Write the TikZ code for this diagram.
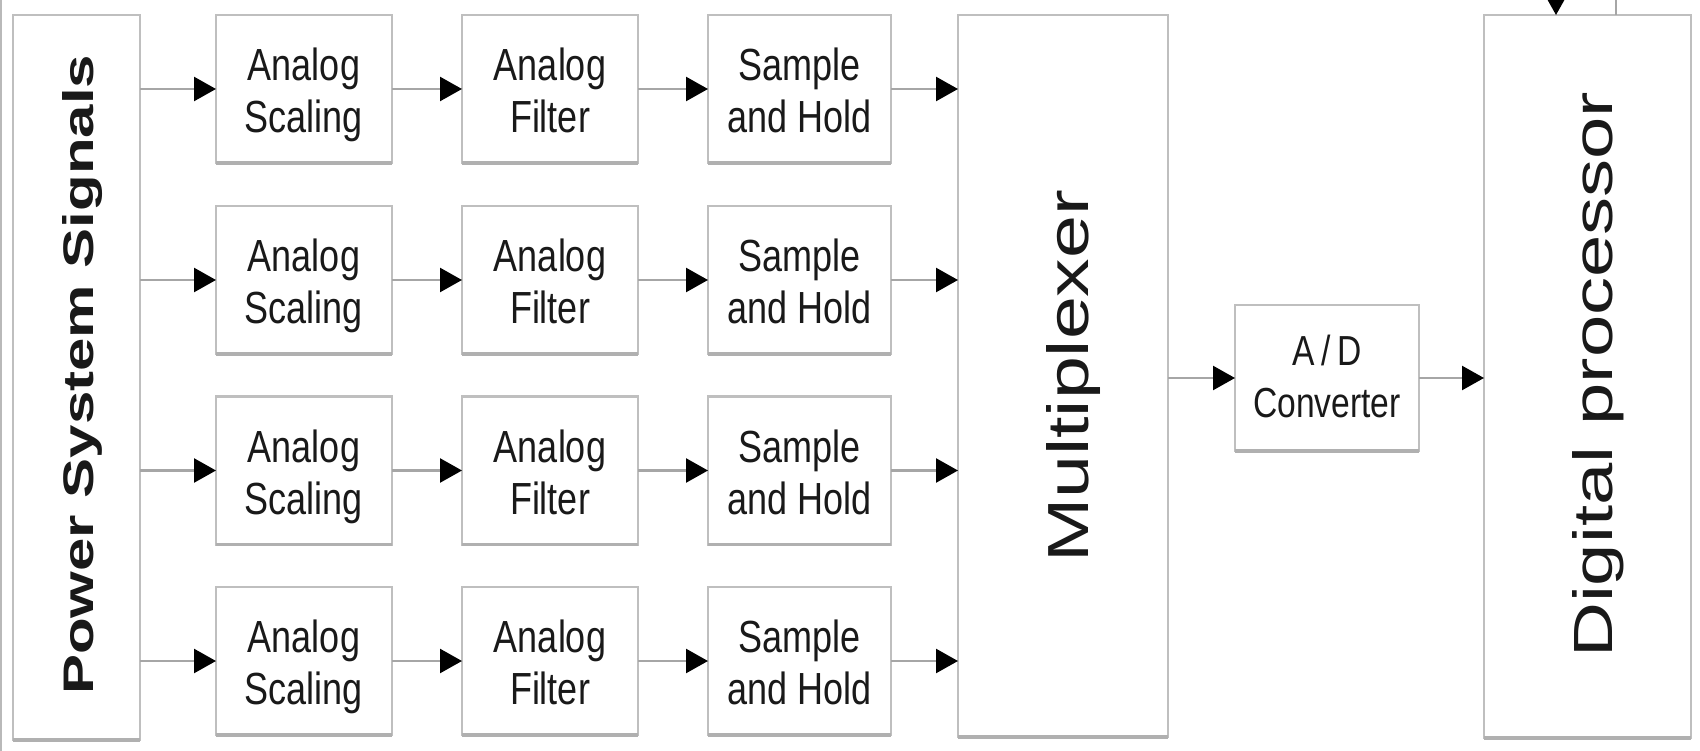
\documentclass[tikz,border=0pt]{standalone}
\usepackage{graphicx}
\usepackage{fontspec}
\setmainfont{Liberation Sans}
\newfontfamily\narrowfont[FakeStretch=0.8]{Liberation Sans}
\usetikzlibrary{arrows.meta}

\tikzset{
  blockbox/.style={draw=gray!50, line width=2.5pt, fill=white, inner sep=0pt,
    outer sep=0pt, text=black!90, align=center,
    font=\narrowfont\fontsize{45}{52}\selectfont},
  boxshade/.style={draw=gray!62, line width=3.5pt},
  flow/.style={draw=gray!70, line width=2.5pt,
    -{Triangle[length=22pt,width=24pt,color=black]}},
  wire/.style={draw=gray!70, line width=2.5pt},
  vlabel/.style={rotate=90, anchor=base west, inner sep=0pt, text=black!90},
  boxtext/.style={text=black!90, align=center, inner sep=0pt,
    font=\narrowfont\fontsize{45}{52}\selectfont},
}

\begin{document}
\begin{tikzpicture}[x=1pt,y=-1pt]
  \useasboundingbox (0,0) rectangle (1700,751);
  \clip (0,0) rectangle (1700,751);
  \fill[white] (0,0) rectangle (1700,751);
  \draw[gray!55, line width=2pt] (1,0) -- (1,751);

  % tall blocks
  \node[blockbox, minimum width=127pt, minimum height=725pt] (pss) at (76.5,377.5) {};
  \node[blockbox, minimum width=210pt, minimum height=722pt] (mux) at (1063,376) {};
  \node[blockbox, minimum width=207pt, minimum height=723pt] (dsp) at (1587.5,376.5) {};
  \node[blockbox, minimum width=184pt, minimum height=146pt] (adc) at (1327,378) {};
  \node[boxtext, font=\narrowfont\fontsize{42}{52}\selectfont, yshift=-3pt] (adctext)
    at (adc) {A\,/\,D\vphantom{g}\\Converter\vphantom{g}};

  % vertical captions
  \node[vlabel] (psstext) at (93,695) {\resizebox{640pt}{31pt}{\bfseries Power System Signals}};
  \node[vlabel] (muxtext) at (1088,563) {\resizebox{373pt}{42pt}{Multiplexer}};
  \node[vlabel] (dsptext) at (1612,658) {\resizebox{566pt}{40pt}{Digital processor}};

  % four identical signal chains
  \foreach \r/\cy in {1/89, 2/280, 3/470.5, 4/661} {
    \node[blockbox, minimum width=176pt, minimum height=148pt] (sc\r) at (304,\cy) {};
    \node[blockbox, minimum width=176pt, minimum height=148pt] (fl\r) at (550,\cy) {};
    \node[blockbox, minimum width=183pt, minimum height=148pt] (sh\r) at (799.5,\cy) {};
    \node[boxtext, yshift=-6pt] (sct\r) at (sc\r) {Analog\vphantom{g}\\Scaling\vphantom{g}};
    \node[boxtext, yshift=-6pt] (flt\r) at (fl\r) {Analog\vphantom{g}\\Filter\vphantom{g}};
    \node[boxtext, yshift=-6pt] (sht\r) at (sh\r) {Sample\vphantom{g}\\and Hold\vphantom{g}};
    \draw[boxshade] (sc\r.south west) -- (sc\r.south east);
    \draw[boxshade] (fl\r.south west) -- (fl\r.south east);
    \draw[boxshade] (sh\r.south west) -- (sh\r.south east);
    \draw[flow] (pss.east |- sc\r.west) -- (sc\r.west);
    \draw[flow] (sc\r.east) -- (fl\r.west);
    \draw[flow] (fl\r.east) -- (sh\r.west);
    \draw[flow] (sh\r.east) -- (sh\r.east -| mux.west);
  }

  \foreach \b in {pss, mux, dsp, adc}
    \draw[boxshade] (\b.south west) -- (\b.south east);

  % conversion path
  \draw[flow] (mux.east |- adc.west) -- (adc.west);
  \draw[flow] (adc.east) -- (adc.east -| dsp.west);

  % links leaving through the top edge
  \coordinate (topin) at (1556,-25);
  \coordinate (topout) at (1616,-5);
  \draw[flow] (topin) -- (topin |- dsp.north);
  \draw[wire] (dsp.north -| topout) -- (topout);
\end{tikzpicture}
\end{document}
